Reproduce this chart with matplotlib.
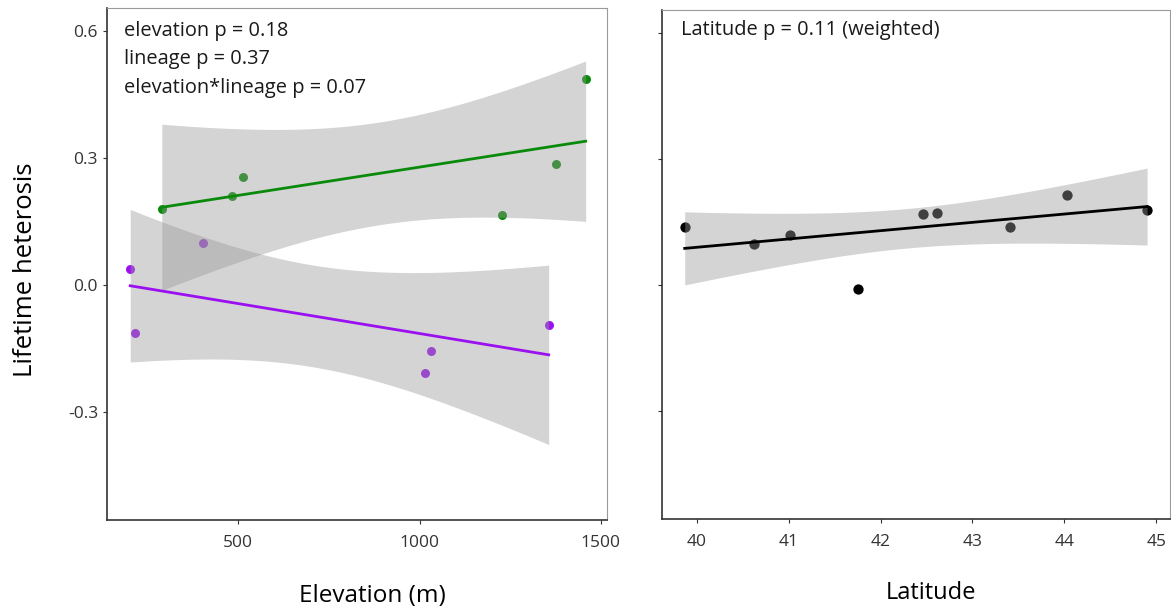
"""
Lifetime heterosis vs elevation (by lineage) and vs latitude,
linear fits with 95% confidence bands.
"""

import matplotlib
matplotlib.use("Agg")
import matplotlib.pyplot as plt
import numpy as np

# ---------------------------------------------------------------------------
# Data
# ---------------------------------------------------------------------------
green_elev = [289, 482, 512, 1228, 1375, 1458]
green_het = [0.180, 0.209, 0.256, 0.165, 0.286, 0.486]

purple_elev = [202, 215, 403, 1015, 1032, 1356]
purple_het = [0.038, -0.113, 0.098, -0.209, -0.157, -0.094]

lat = [39.87, 40.62, 41.01, 41.75, 42.46, 42.62, 43.41, 44.03, 44.90]
lat_het = [0.138, 0.097, 0.118, -0.009, 0.169, 0.172, 0.138, 0.215, 0.179]

elev_text = ["elevation p = 0.18", "lineage p = 0.37", "elevation*lineage p = 0.07"]
lat_text = "Latitude p = 0.11 (weighted)"

yticks = [-0.3, 0.0, 0.3, 0.6]
elev_ticks = [500, 1000, 1500]
lat_ticks = [40, 41, 42, 43, 44, 45]

# two-sided 95% t critical values by residual df
T_CRIT = {4: 2.776445, 7: 2.364624}

GREEN = "#0A8A0A"
PURPLE = "#9A10F0"
BAND = "#999999"

plt.rcParams.update({
    "font.family": ["Open Sans", "DejaVu Sans"],
    "text.color": "#1a1a1a",
})


def lm_band(ax, x, y, color, n=80):
    x = np.asarray(x, float)
    y = np.asarray(y, float)
    slope, icpt = np.polyfit(x, y, 1)
    resid = y - (slope * x + icpt)
    df = len(x) - 2
    s = np.sqrt(np.sum(resid ** 2) / df)
    xs = np.linspace(x.min(), x.max(), n)
    fit = slope * xs + icpt
    se = s * np.sqrt(1 / len(x) + (xs - x.mean()) ** 2 / np.sum((x - x.mean()) ** 2))
    half = T_CRIT[df] * se
    ax.fill_between(xs, fit - half, fit + half, color=BAND, alpha=0.42,
                    linewidth=0, zorder=3)
    ax.plot(xs, fit, color=color, linewidth=2, zorder=4)


def style_axes(ax):
    for side in ("left", "bottom"):
        ax.spines[side].set_color("#333333")
        ax.spines[side].set_linewidth(1.2)
    for side in ("top", "right"):
        ax.spines[side].set_color("#9a9a9a")
        ax.spines[side].set_linewidth(0.8)
    ax.tick_params(axis="both", direction="out", length=3, width=0.8,
                   color="#333333", labelcolor="#333333", labelsize=12.5)
    ax.tick_params(axis="x", pad=8)
    ax.set_ylim(-0.555, 0.654)
    ax.set_yticks(yticks)


fig = plt.figure(figsize=(11.71, 6.13), dpi=100)
ax1 = fig.add_axes([0.0914, 0.1517, 0.4270, 0.8353])
ax2 = fig.add_axes([0.5651, 0.1541, 0.4341, 0.8296])

# ---------------------------------------------------------------------------
# Left: elevation
# ---------------------------------------------------------------------------
ax1.scatter(green_elev, green_het, s=42, color=GREEN, linewidths=0, zorder=2)
ax1.scatter(purple_elev, purple_het, s=42, color=PURPLE, linewidths=0, zorder=2)
lm_band(ax1, green_elev, green_het, GREEN)
lm_band(ax1, purple_elev, purple_het, PURPLE)

style_axes(ax1)
ax1.set_xlim(138, 1517)
ax1.set_xticks(elev_ticks)
ax1.set_yticklabels([f"{v:.1f}" for v in yticks])
ax1.set_xlabel("Elevation (m)", fontsize=17.5)
ax1.xaxis.set_label_coords(0.53, -0.125)
ax1.set_ylabel("Lifetime heterosis", fontsize=18.5)
ax1.yaxis.set_label_coords(-0.138, 0.488)

for i, line in enumerate(elev_text):
    ax1.text(0.034, 0.955 - i * 0.0555, line, transform=ax1.transAxes,
             fontsize=14.4, va="center", ha="left")

# ---------------------------------------------------------------------------
# Right: latitude
# ---------------------------------------------------------------------------
ax2.scatter(lat, lat_het, s=55, color="black", linewidths=0, zorder=2)
lm_band(ax2, lat, lat_het, "black")

style_axes(ax2)
ax2.set_xlim(39.62, 45.15)
ax2.set_xticks(lat_ticks)
ax2.set_yticklabels([])
ax2.set_xlabel("Latitude", fontsize=17)
ax2.xaxis.set_label_coords(0.53, -0.122)
ax2.text(0.038, 0.96, lat_text, transform=ax2.transAxes,
         fontsize=14.4, va="center", ha="left")

fig.savefig("out.png", dpi=100, facecolor="white")
plt.close(fig)
